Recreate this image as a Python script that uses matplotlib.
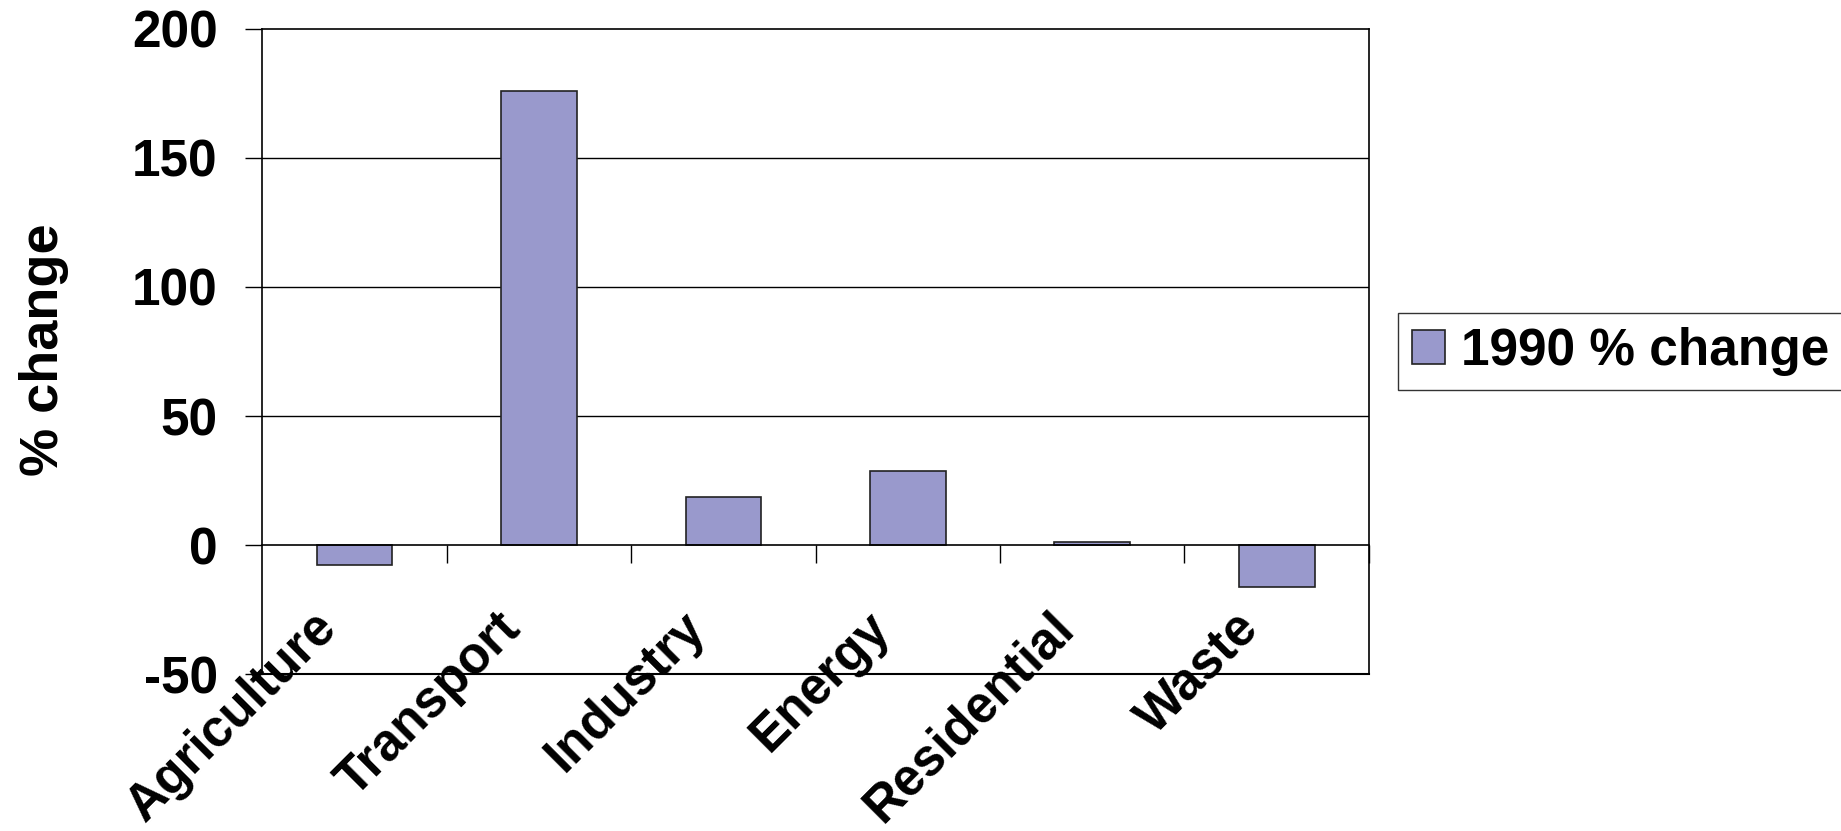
import matplotlib
matplotlib.use("Agg")
import matplotlib.pyplot as plt
from matplotlib.transforms import ScaledTranslation

# Datos del gráfico
sectors = ['Agriculture', 'Transport', 'Industry', 'Energy', 'Residential', 'Waste']
pct_change = [-7.7, 176, 18.8, 28.8, 1.2, -16.3]
y_ticks = [-50, 0, 50, 100, 150, 200]
series_name = '1990 % change'

plt.rcParams['font.family'] = ['Liberation Sans', 'DejaVu Sans']
plt.rcParams['font.weight'] = 'bold'
FS = 37

fig = plt.figure(figsize=(18.41, 8.31), dpi=100)
ax = fig.add_axes([0.1424, 0.1886, 0.6012, 0.7769])

x = list(range(len(sectors)))
ax.bar(x, pct_change, width=0.41, color='#9999cc', edgecolor='#222222',
       linewidth=1.2, label=series_name, zorder=3)

ax.set_xlim(-0.5, len(sectors) - 0.5)
ax.set_ylim(-50, 200)
ax.set_yticks(y_ticks)
ax.set_yticklabels([str(v) for v in y_ticks], fontsize=FS, fontweight='bold')
ax.tick_params(axis='y', direction='out', length=12, width=1, pad=20)

# rejilla horizontal
for v in y_ticks[2:-1]:
    ax.axhline(v, color='black', linewidth=1, zorder=1)

# eje de categorías en el cero
ax.spines['bottom'].set_position(('data', 0))
ax.spines['bottom'].set_zorder(4)
ax.axhline(-50, color='black', linewidth=1.5, clip_on=False, zorder=4)
for s in ['left', 'right', 'top', 'bottom']:
    ax.spines[s].set_linewidth(1.2)
ax.set_xticks(x)
ax.set_xticklabels([])
ax.tick_params(axis='x', which='major', length=0)
ax.set_xticks([i + 0.5 for i in x], minor=True)
ax.tick_params(axis='x', which='minor', direction='out', length=13, width=1)

# etiquetas de categoría giradas
off = ScaledTranslation(-43 / 100, -58 / 100, fig.dpi_scale_trans)
for i, name in zip(x, sectors):
    ax.text(i, 0, name, transform=ax.transData + off, rotation=45,
            rotation_mode='anchor', ha='right', va='top',
            fontsize=FS, fontweight='bold')

fig.text(44 / 1841, 1 - 350 / 831, '% change', rotation=90, ha='center',
         va='center', fontsize=39, fontweight='bold')

leg = ax.legend(loc='upper left', bbox_to_anchor=(1397.5 / 1841, 1 - 312.7 / 831),
                bbox_transform=fig.transFigure, frameon=True, fancybox=False,
                fontsize=FS, handlelength=0.65, handleheight=0.65,
                handletextpad=0.31, borderpad=0.28, borderaxespad=0)
leg.get_frame().set_edgecolor('black')
leg.get_frame().set_linewidth(1)
for t in leg.get_texts():
    t.set_fontweight('bold')

fig.savefig('out.png', dpi=100)
plt.close(fig)
